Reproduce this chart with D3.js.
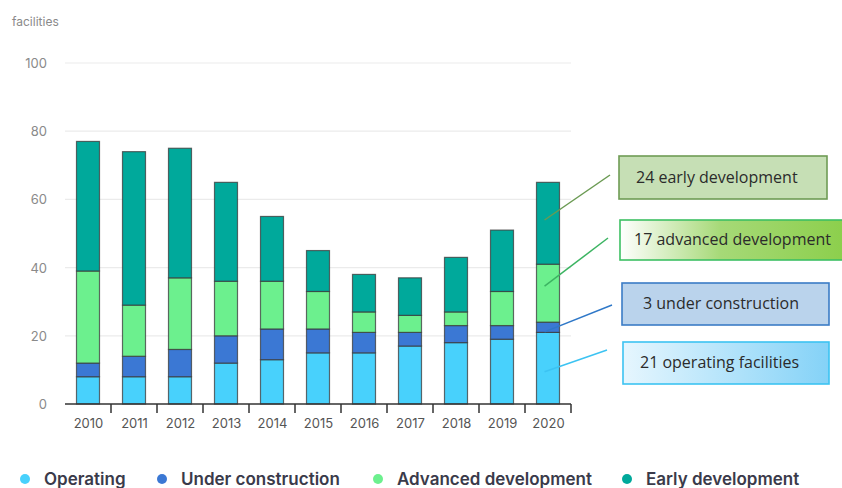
<!DOCTYPE html>
<html>
<head>
<meta charset="utf-8">
<script src="https://cdn.jsdelivr.net/npm/d3@7"></script>
<style>
  body { margin: 0; background: #fff; }
  svg { display: block; font-family: Inter, "Open Sans", sans-serif; }
</style>
</head>
<body>
<script>
var years = ["2010", "2011", "2012", "2013", "2014", "2015", "2016", "2017", "2018", "2019", "2020"];
var operating = [8, 8, 8, 12, 13, 15, 15, 17, 18, 19, 21];
var underConstruction = [4, 6, 8, 8, 9, 7, 6, 4, 5, 4, 3];
var advanced = [27, 15, 21, 16, 14, 11, 6, 5, 4, 10, 17];
var early = [38, 45, 38, 29, 19, 12, 11, 11, 16, 18, 24];
var seriesNames = ["Operating", "Under construction", "Advanced development", "Early development"];
var yTicks = [0, 20, 40, 60, 80, 100];
var notes = ["21 operating facilities", "3 under construction", "17 advanced development", "24 early development"];

var colors = ["#48d1fc", "#3b78d4", "#6cf08e", "#00a99b"];

var outerWidth = 842, outerHeight = 488;
var margin = { top: 63, left: 65 },
    width = 506,
    height = 341;

var svg = d3.select("body").append("svg").attr("width", outerWidth).attr("height", outerHeight);

svg.append("text").attr("x", 12).attr("y", 26).attr("fill", "#8a8a8a").attr("font-size", 12).text("facilities");

var chart = svg.append("g").attr("transform", "translate(" + margin.left + "," + margin.top + ")");

var x = d3.scaleBand().domain(years).range([0, width]).paddingInner(0.5).paddingOuter(0.25);
var y = d3.scaleLinear().domain([0, 100]).range([height, 0]);

// gridlines
chart.append("g").selectAll("line").data(yTicks.slice(1)).enter().append("line")
    .attr("x1", 0).attr("x2", width).attr("y1", y).attr("y2", y)
    .attr("stroke", "#ebebeb").attr("stroke-width", 1.2);

chart.append("g").selectAll("text").data(yTicks).enter().append("text")
    .attr("x", -18).attr("y", function (d) { return y(d) + 5; })
    .attr("text-anchor", "end").attr("fill", "#8a8a8a").attr("font-size", 13)
    .text(function (d) { return d; });

var rows = years.map(function (yr, i) {
  return { year: yr, op: operating[i], uc: underConstruction[i], adv: advanced[i], early: early[i] };
});
var stack = d3.stack().keys(["op", "uc", "adv", "early"]);
var layers = stack(rows);

chart.append("g").selectAll("g").data(layers).enter().append("g")
    .attr("fill", function (d, i) { return colors[i]; })
    .selectAll("rect").data(function (d) { return d; }).enter().append("rect")
    .attr("x", function (d) { return x(d.data.year); })
    .attr("width", x.bandwidth())
    .attr("y", function (d) { return y(d[1]); })
    .attr("height", function (d) { return y(d[0]) - y(d[1]); })
    .attr("stroke", "#3a3a3a").attr("stroke-opacity", 0.75).attr("stroke-width", 1.2);

// x axis
var xAxis = chart.append("g").attr("transform", "translate(0," + height + ")");
xAxis.append("line").attr("x1", 0).attr("x2", width).attr("stroke", "#333").attr("stroke-width", 1.5);
xAxis.selectAll(".tk").data(years).enter().append("line")
    .attr("x1", function (d) { return x(d) + x.bandwidth() * 1.5; })
    .attr("x2", function (d) { return x(d) + x.bandwidth() * 1.5; })
    .attr("y1", 0).attr("y2", 9).attr("stroke", "#333").attr("stroke-width", 1.5);
xAxis.selectAll("text").data(years).enter().append("text")
    .attr("x", function (d) { return x(d) + x.bandwidth() / 2 + 0.5; })
    .attr("y", 24).attr("text-anchor", "middle").attr("fill", "#555").attr("font-size", 13)
    .text(function (d) { return d; });

// legend
var legendX = [25, 162, 378, 627];
var legend = svg.append("g").selectAll("g").data(seriesNames).enter().append("g")
    .attr("transform", function (d, i) { return "translate(" + legendX[i] + ",479)"; });
legend.append("circle").attr("r", 5).attr("fill", function (d, i) { return colors[i]; });
legend.append("text").attr("x", 19).attr("y", 6).attr("font-size", 17).attr("font-weight", 600)
    .attr("fill", "#3a3a4a").text(function (d) { return d; });

// annotations for 2020
var defs = svg.append("defs");
var g1 = defs.append("linearGradient").attr("id", "gAdv");
g1.append("stop").attr("offset", "0%").attr("stop-color", "#ffffff");
g1.append("stop").attr("offset", "45%").attr("stop-color", "#a6d977");
g1.append("stop").attr("offset", "100%").attr("stop-color", "#8ccf4c");
var g2 = defs.append("linearGradient").attr("id", "gOp");
g2.append("stop").attr("offset", "0%").attr("stop-color", "#e6f6fe");
g2.append("stop").attr("offset", "100%").attr("stop-color", "#84d2f7");

var last = rows.length - 1;
var notePos = [0.45, 0.05, 0.62, 0.54]; // where the leader touches inside the segment
var boxes = [
  { x: 623, y: 342, w: 206, h: 42, fill: "url(#gOp)", stroke: "#3cc3f2", line: "#3cc3f2", tx: 640, end: [607, 350] },
  { x: 622, y: 283, w: 207, h: 42, fill: "#bad3ec", stroke: "#3b7cc6", line: "#2f78c8", tx: 643, end: [612, 305] },
  { x: 620, y: 220, w: 224, h: 40, fill: "url(#gAdv)", stroke: "#3dc063", line: "#3cb462", tx: 634, end: [608, 238] },
  { x: 619, y: 156, w: 208, h: 43, fill: "#c6dfb5", stroke: "#6f9c55", line: "#6a9a52", tx: 636, end: [610, 175] }
];
var ann = svg.append("g");
layers.forEach(function (layer, i) {
  var seg = layer[last];
  var b = boxes[i];
  var sx = margin.left + x(years[last]) + x.bandwidth() * 0.35;
  var sy = margin.top + y(seg[0] + (seg[1] - seg[0]) * notePos[i]);
  ann.append("line").attr("x1", sx).attr("y1", sy).attr("x2", b.end[0]).attr("y2", b.end[1])
      .attr("stroke", b.line).attr("stroke-width", 1.5);
  ann.append("rect").attr("x", b.x).attr("y", b.y).attr("width", b.w).attr("height", b.h)
      .attr("fill", b.fill).attr("stroke", b.stroke).attr("stroke-width", 1.6);
  ann.append("text").attr("x", b.tx).attr("y", b.y + b.h / 2 + 5)
      .attr("font-family", "'Open Sans', 'Liberation Sans', sans-serif")
      .attr("font-size", 16).attr("fill", "#2b2b2b").text(notes[i]);
});
</script>
</body>
</html>
